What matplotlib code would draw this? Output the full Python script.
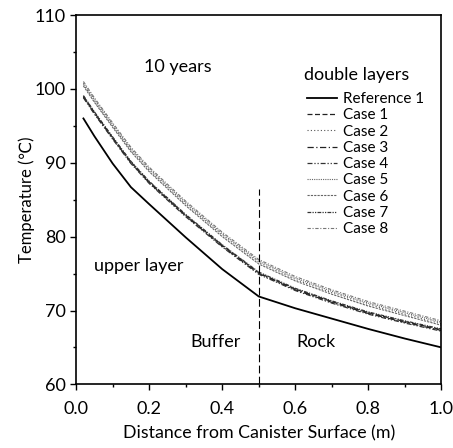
import matplotlib
matplotlib.use("Agg")
import matplotlib.pyplot as plt
from matplotlib.ticker import MultipleLocator, FormatStrFormatter

plt.rcParams['font.family'] = ['Lato', 'DejaVu Sans']

x = [0.02, 0.05, 0.10, 0.15, 0.20, 0.30, 0.40, 0.50, 0.60, 0.70, 0.80, 0.90, 1.00]
reference1 = [96.0, 93.6, 89.9, 86.7, 84.4, 79.9, 75.6, 71.9, 70.3, 68.9, 67.5, 66.2, 65.0]
case1 = [99.0, 96.8, 93.4, 90.1, 87.4, 82.9, 78.8, 75.1, 72.9, 71.2, 69.7, 68.5, 67.4]
case2 = [100.6, 98.4, 95.0, 91.7, 89.0, 84.4, 80.2, 76.5, 74.2, 72.4, 70.8, 69.5, 68.2]
case3 = [98.9, 96.7, 93.3, 90.0, 87.3, 82.8, 78.7, 75.0, 72.8, 71.1, 69.6, 68.4, 67.3]
case4 = [98.8, 96.6, 93.2, 89.9, 87.2, 82.7, 78.6, 74.9, 72.7, 71.0, 69.5, 68.3, 67.2]
case5 = [100.8, 98.6, 95.2, 91.9, 89.2, 84.6, 80.4, 76.7, 74.4, 72.6, 71.0, 69.7, 68.4]
case6 = [100.4, 98.2, 94.8, 91.5, 88.8, 84.2, 80.0, 76.3, 74.0, 72.2, 70.6, 69.3, 68.0]
case7 = [99.1, 96.9, 93.5, 90.2, 87.5, 83.0, 78.9, 75.2, 73.0, 71.3, 69.8, 68.6, 67.5]
case8 = [101.0, 98.8, 95.4, 92.1, 89.4, 84.8, 80.6, 76.9, 74.6, 72.8, 71.2, 69.9, 68.6]

labels = ['Reference 1', 'Case 1', 'Case 2', 'Case 3', 'Case 4',
          'Case 5', 'Case 6', 'Case 7', 'Case 8']
series = [reference1, case1, case2, case3, case4, case5, case6, case7, case8]
styles = ['-', (0, (4, 2)), (0, (1, 2)), (0, (5, 2, 1, 2)), (0, (4, 1.5, 1, 1.5, 1, 1.5)),
          (0, (1, 1)), (0, (2, 1)), (0, (3, 1, 1, 1, 1, 1)), (0, (3, 1.5, 1, 1.5))]
colors = ['black', '#222222', '#555555', '#222222', '#333333',
          '#666666', '#666666', '#333333', '#777777']
widths = [1.3, 0.9, 0.8, 0.9, 0.9, 0.8, 0.8, 0.9, 0.8]

fig = plt.figure(figsize=(4.53, 4.48), dpi=100)
ax = fig.add_axes([0.168, 0.142, 0.8065, 0.8245])

for s, lab, ls, c, lw in zip(series, labels, styles, colors, widths):
    ax.plot(x, s, linestyle=ls, color=c, lw=lw, label=lab)

ax.plot([0.5, 0.5], [60, 86.5], color='black', lw=0.8, linestyle=(0, (7, 3)))

ax.set_xlim(0, 1.0)
ax.set_ylim(60, 110)
ax.xaxis.set_major_locator(MultipleLocator(0.2))
ax.xaxis.set_minor_locator(MultipleLocator(0.1))
ax.yaxis.set_major_locator(MultipleLocator(10))
ax.yaxis.set_minor_locator(MultipleLocator(5))
ax.tick_params(which='major', direction='out', length=4, width=1, labelsize=13, colors='black')
ax.tick_params(axis='x', which='major', pad=8)
ax.tick_params(which='minor', direction='out', length=2.5, width=1)
ax.xaxis.set_major_formatter(FormatStrFormatter('%.1f'))
for sp in ax.spines.values():
    sp.set_linewidth(1.2)

ax.set_xlabel('Distance from Canister Surface (m)', fontsize=12.8, labelpad=6)
ax.set_ylabel('Temperature (℃)', fontsize=12, labelpad=0)

ax.text(0.186, 102.3, '10 years', fontsize=13)
ax.text(0.625, 101.2, 'double layers', fontsize=13)
ax.text(0.05, 75.4, 'upper layer', fontsize=13)
ax.text(0.312, 65.0, 'Buffer', fontsize=13)
ax.text(0.603, 65.0, 'Rock', fontsize=13)

leg = ax.legend(loc='upper left', bbox_to_anchor=(0.616, 0.808), frameon=False,
                fontsize=11, handlelength=1.96, handletextpad=0.4,
                labelspacing=0.15, borderaxespad=0)

fig.savefig('out.png', dpi=100)
